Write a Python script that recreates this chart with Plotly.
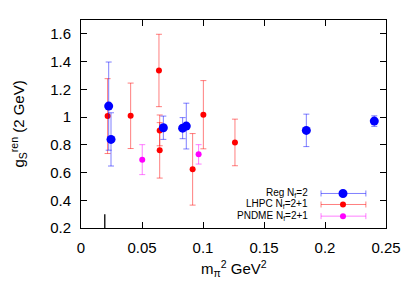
import plotly.graph_objects as go

# ---- data ----
reg_x = [0.0227, 0.0246, 0.0675, 0.0833, 0.0863, 0.1847, 0.2404]
reg_y = [1.079, 0.839, 0.923, 0.920, 0.935, 0.904, 0.971]
reg_err = [0.318, 0.192, 0.084, 0.076, 0.165, 0.117, 0.038]

lhpc_x = [0.0218, 0.0407, 0.0639, 0.0645, 0.0645, 0.0915, 0.1003, 0.1262]
lhpc_y = [1.007, 1.009, 1.336, 0.904, 0.760, 0.623, 1.017, 0.817]
lhpc_err = [0.270, 0.236, 0.261, 0.111, 0.200, 0.258, 0.246, 0.168]

pndme_x = [0.0502, 0.0964]
pndme_y = [0.693, 0.731]
pndme_err = [0.108, 0.070]

phys_x = [0.0195, 0.0195]
phys_y = [0.2, 0.3]

legend_labels = ["Reg N<sub>f</sub>=2", "LHPC N<sub>f</sub>=2+1", "PNDME N<sub>f</sub>=2+1"]

x_ticks = [0, 0.05, 0.1, 0.15, 0.2, 0.25]
x_ticktext = ["0", "0.05", "0.1", "0.15", "0.2", "0.25"]
y_ticks = [0.2, 0.4, 0.6, 0.8, 1.0, 1.2, 1.4, 1.6]
y_ticktext = ["0.2", "0.4", "0.6", "0.8", "1", "1.2", "1.4", "1.6"]

FONT = "Liberation Sans, Arial, sans-serif"

fig = go.Figure()

fig.add_trace(go.Scatter(
    x=phys_x, y=phys_y, mode="lines",
    line=dict(color="black", width=1.3), showlegend=False, hoverinfo="skip"))

fig.add_trace(go.Scatter(
    x=lhpc_x, y=lhpc_y, mode="markers",
    marker=dict(color="#ff0000", size=6),
    error_y=dict(type="data", array=lhpc_err, color="rgba(255,0,0,0.5)", thickness=1, width=3),
    showlegend=False))

fig.add_trace(go.Scatter(
    x=pndme_x, y=pndme_y, mode="markers",
    marker=dict(color="#ff00ff", size=6),
    error_y=dict(type="data", array=pndme_err, color="rgba(255,0,255,0.5)", thickness=1, width=3),
    showlegend=False))

fig.add_trace(go.Scatter(
    x=reg_x, y=reg_y, mode="markers",
    marker=dict(color="#0000ff", size=9),
    error_y=dict(type="data", array=reg_err, color="rgba(0,0,255,0.5)", thickness=1, width=3),
    showlegend=False))

# ---- manual gnuplot-style key ----
key_colors = ["#0000ff", "#ff0000", "#ff00ff"]
key_bar_colors = ["rgba(0,0,255,0.5)", "rgba(255,0,0,0.5)", "rgba(255,0,255,0.5)"]
key_sizes = [9, 6, 6]
key_rows = [0.166, 0.113, 0.057]
x0, x1, xm, xt = 0.787, 0.934, 0.859, 0.752
shapes = []
annotations = []
for lab, c, bc, s, yy in zip(legend_labels, key_colors, key_bar_colors, key_sizes, key_rows):
    annotations.append(dict(text=lab, x=xt, y=yy, xref="paper", yref="paper",
                            xanchor="right", yanchor="middle", showarrow=False,
                            font=dict(family=FONT, size=10, color="black")))
    shapes.append(dict(type="line", xref="paper", yref="paper", x0=x0, x1=x1, y0=yy, y1=yy,
                       line=dict(color=bc, width=1)))
    for xe in (x0, x1):
        shapes.append(dict(type="line", xref="paper", yref="paper", xsizemode="scaled",
                           ysizemode="pixel", yanchor=yy, x0=xe, x1=xe, y0=-3, y1=3,
                           line=dict(color=bc, width=1)))
    shapes.append(dict(type="circle", xref="paper", yref="paper", xsizemode="pixel",
                       ysizemode="pixel", xanchor=xm, yanchor=yy,
                       x0=-s / 2, x1=s / 2, y0=-s / 2, y1=s / 2,
                       fillcolor=c, line=dict(color=c, width=0)))

annotations.append(dict(text="m<sub>π</sub><sup>2</sup> GeV<sup>2</sup>", x=0.5, y=-0.194,
                        xref="paper", yref="paper", xanchor="center", yanchor="middle",
                        showarrow=False, font=dict(family=FONT, size=15, color="black")))
annotations.append(dict(text="g<sub>S</sub><sup>ren</sup> (2 GeV)", x=-0.208, y=0.5,
                        xref="paper", yref="paper", xanchor="center", yanchor="middle",
                        textangle=-90, showarrow=False,
                        font=dict(family=FONT, size=15, color="black")))

# page body has an 8px default margin; compensate so the plot frame lands where the reference has it
fig.update_layout(
    width=415, height=297,
    margin=dict(l=73, r=37, t=12, b=77),
    paper_bgcolor="white", plot_bgcolor="white",
    font=dict(family=FONT, size=15, color="black"),
    shapes=shapes, annotations=annotations,
)
fig.update_xaxes(
    range=[0, 0.25], tickvals=x_ticks, ticktext=x_ticktext,
    showgrid=False, zeroline=False, showline=True, linecolor="black", linewidth=1,
    mirror="ticks", ticks="inside", ticklen=6, tickcolor="black",
    ticklabelstandoff=6, tickfont=dict(family=FONT, size=15))
fig.update_yaxes(
    range=[0.2, 1.7], tickvals=y_ticks, ticktext=y_ticktext,
    showgrid=False, zeroline=False, showline=True, linecolor="black", linewidth=1,
    mirror="ticks", ticks="inside", ticklen=6, tickcolor="black",
    ticklabelstandoff=6, tickfont=dict(family=FONT, size=15))

fig.write_html("out.html")
